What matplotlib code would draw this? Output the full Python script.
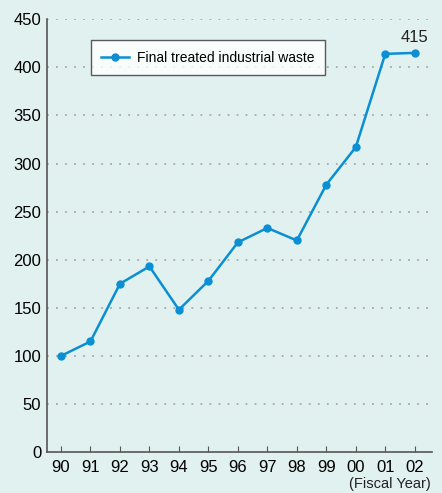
import matplotlib.pyplot as plt
import numpy as np

years = ['90', '91', '92', '93', '94', '95', '96', '97', '98', '99', '00', '01', '02']
waste = [100, 115, 175, 193, 148, 178, 218, 233, 220, 278, 317, 414, 415]

bg = '#e1f1ef'
blue = '#0b8fd3'
plt.rcParams['font.family'] = ['Liberation Sans', 'DejaVu Sans']

fig = plt.figure(figsize=(4.42, 4.93), dpi=100, facecolor=bg)
ax = fig.add_axes([0.106, 0.083, 0.871, 0.878], facecolor=bg)

x = np.arange(len(years))
ax.plot(x, waste, color=blue, lw=1.8, marker='o', ms=5, label='Final treated industrial waste')
ax.annotate('415', (x[-1], waste[-1]), xytext=(0, 6), textcoords='offset points',
            ha='center', va='bottom', fontsize=12, color='#222222')

ax.set_xlim(-0.48, 12.58)
ax.set_ylim(0, 450)
ax.set_xticks(x)
ax.set_xticklabels(years)
ax.set_yticks(np.arange(0, 451, 50))
for v in range(50, 451, 50):
    ax.axhline(v, color='#aaaaaa', lw=1.3, ls=(0, (1, 4)), zorder=0)

for s in ['top', 'right']:
    ax.spines[s].set_visible(False)
for s in ['left', 'bottom']:
    ax.spines[s].set_color('#555555')
    ax.spines[s].set_linewidth(1.2)
ax.tick_params(axis='x', direction='in', length=4, color='#555555', labelsize=12, pad=6)
ax.tick_params(axis='y', length=0, labelsize=12, pad=4)

leg = ax.legend(loc='upper left', bbox_to_anchor=(0.114, 0.951), fontsize=10, frameon=True,
                fancybox=False, borderpad=0.75, handlelength=2.0, handletextpad=0.6,
                borderaxespad=0)
leg.get_frame().set_edgecolor('#333333')
leg.get_frame().set_linewidth(1.0)

fig.text(0.975, 0.005, '(Fiscal Year)', ha='right', va='bottom', fontsize=10.5, color='#222222')

fig.savefig('out.png', dpi=100, facecolor=bg)
